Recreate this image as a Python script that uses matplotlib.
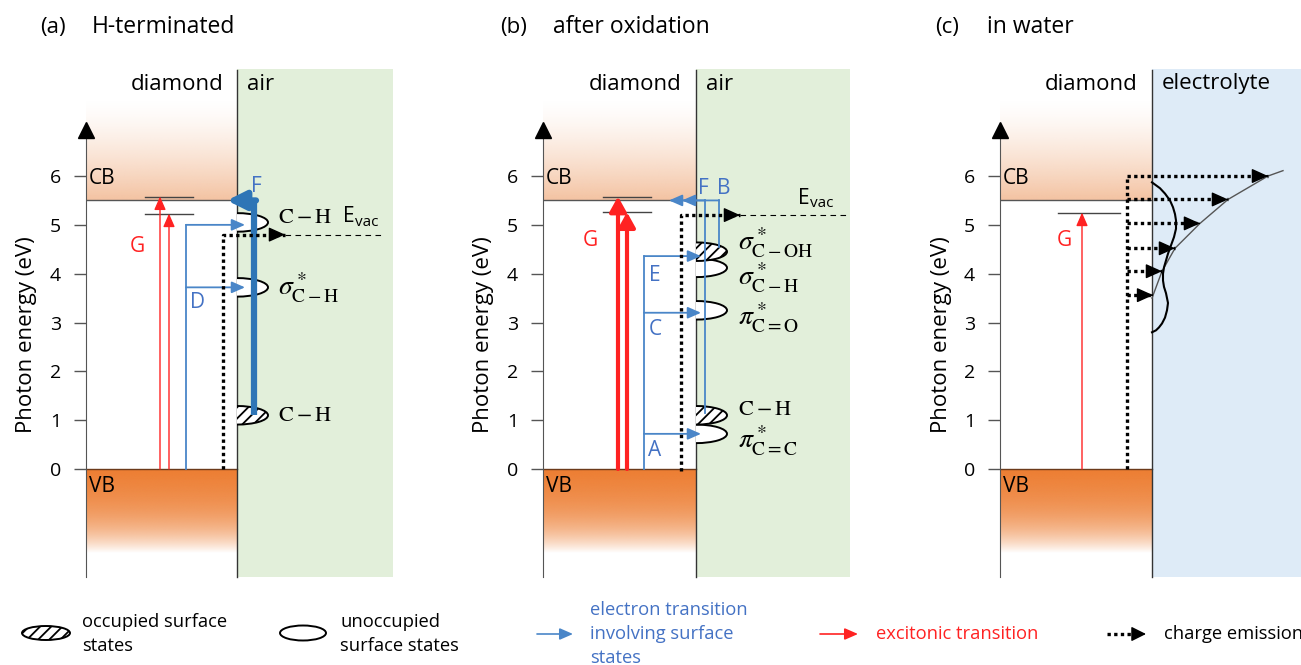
import numpy as np
import matplotlib.pyplot as plt
from matplotlib.patches import Ellipse, Rectangle
from matplotlib.colors import to_rgb

plt.rcParams['font.family'] = ['Open Sans', 'DejaVu Sans']
plt.rcParams['mathtext.fontset'] = 'stix'
plt.rcParams['hatch.linewidth'] = 1.3

# ---- data (energies in eV) ----
energy_ticks = [0, 1, 2, 3, 4, 5, 6]
cb_edge = 5.5
vb_edge = 0.0

# (a) H-terminated
a_exciton = [5.58, 5.23]
a_empty = [5.05, 3.72]            # C-H, sigma*C-H
a_full = [1.1]                    # C-H
a_empty_names = [r'$\mathrm{C-H}$', r'$\sigma^*_{\mathrm{C-H}}$']
a_empty_label_E = [5.16, 3.71]
a_full_names = [r'$\mathrm{C-H}$']
a_full_label_E = [1.1]
a_D_targets = [5.0, 3.72]
a_F_start = 1.1
a_evac = 4.8

# (b) after oxidation
b_exciton = [5.58, 5.26]
b_empty = [4.12, 3.25, 0.72]      # sigma*C-H, pi*C=O, pi*C=C
b_full = [4.45, 1.1]              # sigma*C-OH, C-H
b_names = [r'$\sigma^*_{\mathrm{C-OH}}$', r'$\sigma^*_{\mathrm{C-H}}$',
           r'$\pi^*_{\mathrm{C=O}}$', r'$\mathrm{C-H}$', r'$\pi^*_{\mathrm{C=C}}$']
b_label_E = [4.62, 3.91, 3.09, 1.21, 0.57]
b_ECA_targets = [4.36, 3.2, 0.72]
b_ECA_names = ['E', 'C', 'A']
b_ECA_label_E = [3.97, 2.86, 0.37]
b_F_start = 1.15
b_B_start = 4.55
b_evac = 5.2

# (c) in water
c_exciton = [5.25]
c_emission = [6.0, 5.52, 5.03, 4.52, 4.05, 3.56]
c_dos_E = [3.5, 4.05, 4.52, 5.03, 5.52, 6.0, 6.11]
c_dos_x = [0, 10, 23, 48, 76, 116, 131]
c_surf_E = [5.87, 5.75, 5.64, 5.5, 5.36, 5.22, 5.09, 4.92, 4.75, 4.58, 4.41, 4.27, 4.13,
            4.0, 3.86, 3.73, 3.6, 3.5, 3.4, 3.25, 3.1, 2.98, 2.9, 2.84, 2.8]
c_surf_x = [0, 8, 13, 18, 21, 23, 24, 24, 22, 19, 16, 14, 12, 11, 11, 12, 14, 15, 16, 15,
            13, 10, 7, 4, 0]

# ---- layout (pixels) ----
W, H = 1301, 665
PX = 48.83
Y0 = 469
Y_BOT, Y_TOP = 577, 10


def E(ypx):
    return (Y0 - ypx) / PX


E_BOT, E_TOP = E(Y_BOT), E(Y_TOP)

BLUE = '#4a86c8'
BLUE_DARK = '#2e75b6'
BLUE_TXT = '#4472c4'
RED = '#ff2222'
GREEN_BG = '#e2efda'
WATER_BG = '#deebf7'

fig = plt.figure(figsize=(W / 100, H / 100), dpi=100)


def arrow(ax, x0, y0, x1, y1, color, lw=1.2, hl=0.8, hw=0.4, ls='-', z=5):
    ax.annotate('', xy=(x1, y1), xytext=(x0, y0), zorder=z,
                arrowprops=dict(arrowstyle='-|>,head_length=%s,head_width=%s' % (hl, hw),
                                color=color, lw=lw, shrinkA=0, shrinkB=0,
                                mutation_scale=10, linestyle=ls))


def dotted_arrow(ax, xs, ys, hl=1.0, hw=0.45):
    ax.plot(xs, ys, color='black', lw=2.4, ls=(0, (1, 1)), dash_capstyle='butt', zorder=5)
    arrow(ax, xs[-1] - 1, ys[-1], xs[-1], ys[-1], 'black', lw=1, hl=hl, hw=hw)


def state(ax, iface, e, filled, w=62, h=0.38):
    el = Ellipse((iface, e), w, h, facecolor='white', edgecolor='black', lw=1.4,
                 hatch='///' if filled else None, zorder=4)
    ax.add_patch(el)
    el.set_clip_path(Rectangle((iface, E_BOT), 400, 20, transform=ax.transData))


def panel(x0, width, iface, med_end, med_color, med_name, tag, title, tag_x, title_x):
    ax = fig.add_axes([x0 / W, (H - Y_BOT) / H, width / W, (Y_BOT - Y_TOP) / H])
    ax.patch.set_visible(False)
    for s in ['top', 'right', 'bottom']:
        ax.spines[s].set_visible(False)
    ax.spines['left'].set_bounds(E_BOT, 6.9)
    ax.spines['left'].set_color('#555555')
    ax.set_xticks([])
    ax.set_yticks(energy_ticks)
    ax.tick_params(axis='y', length=9, width=1, color='#555555', labelsize=14, pad=9)
    ax.plot([0], [6.95], marker='^', ms=11, color='black', clip_on=False, zorder=6)
    # medium next to diamond
    ax.add_patch(Rectangle((iface, E_BOT), med_end - iface, E(69) - E_BOT,
                           color=med_color, lw=0, zorder=0, clip_on=False))
    ax.plot([iface, iface], [E_BOT, E(70)], color='#333333', lw=1, zorder=3, clip_on=False)
    # conduction band gradient
    n = 200
    s = np.linspace(0, 1, n)[:, None]
    img = np.ones((n, 2, 4))
    img[..., :3] = to_rgb('#f4c3a2')
    img[..., 3] = (1 - s) ** 1.4
    ax.imshow(img, extent=(0, iface, cb_edge, E(100)), origin='lower', aspect='auto', zorder=1)
    # valence band gradient
    img2 = np.ones((n, 2, 4))
    img2[..., :3] = to_rgb('#ed7d31')
    s2 = s[::-1]
    img2[..., 3] = (1 - s2 ** 4) * (1 - 0.35 * s2)
    ax.imshow(img2, extent=(0, iface, E(553), vb_edge), origin='lower', aspect='auto', zorder=1)
    ax.plot([0, iface], [cb_edge, cb_edge], color='#555555', lw=1, zorder=2)
    ax.plot([0, iface], [vb_edge, vb_edge], color='#6b3a1a', lw=1, zorder=2)
    ax.text(3, E(178), 'CB', fontsize=15, va='center', zorder=6)
    ax.text(3, E(486), 'VB', fontsize=15, va='center', zorder=6)
    ax.text(iface - 14, E(84), 'diamond', fontsize=16, ha='right', va='center')
    ax.text(iface + 10, E(84), med_name, fontsize=16, ha='left', va='center')
    ax.text(tag_x, E(27), tag, fontsize=16, ha='left', va='center', clip_on=False)
    ax.text(title_x, E(27), title, fontsize=16.5, ha='left', va='center', clip_on=False)
    ax.text(-59, E(335), 'Photon energy (eV)', fontsize=16, rotation=90,
            ha='center', va='center', clip_on=False)
    ax.set_xlim(0, width)
    ax.set_ylim(E_BOT, E_TOP)
    return ax


def evac_label(ax, x, e):
    ax.text(x, e, 'E', fontsize=15, va='center')
    ax.text(x + 12, e - 0.12, 'vac', fontsize=11, va='center')


# ---------------- (a) ----------------
ax = panel(86, 334, 151, 307, GREEN_BG, 'air', '(a)', 'H-terminated', -46, 6)
for e in a_exciton:
    ax.plot([59, 107], [e, e], color='#444444', lw=1, zorder=3)
for xg, e in zip([74, 83], a_exciton):
    arrow(ax, xg, 0, xg, e, RED, lw=1, hl=0.8, hw=0.35)
ax.text(51, E(247), 'G', color=RED, fontsize=15, ha='center', va='center')
ax.plot([100, 100], [0, max(a_D_targets)], color=BLUE, lw=1.3, zorder=5)
for e in a_D_targets:
    arrow(ax, 100, e, 159, e, BLUE, lw=1.3, hl=0.8, hw=0.35)
ax.text(111, E(303), 'D', color=BLUE_TXT, fontsize=15, ha='center', va='center')
for e in a_empty:
    state(ax, 151, e, False)
for e in a_full:
    state(ax, 151, e, True)
ax.plot([168, 168], [a_F_start, cb_edge], color=BLUE_DARK, lw=4.5, zorder=5, solid_capstyle='butt')
arrow(ax, 170, cb_edge, 141, cb_edge, BLUE_DARK, lw=4.5, hl=1.1, hw=0.55)
ax.text(170, E(186), 'F', color=BLUE_TXT, fontsize=15, ha='center', va='center')
dotted_arrow(ax, [137, 137, 199], [0, a_evac, a_evac])
ax.plot([199, 295], [a_evac, a_evac], color='black', lw=0.8, ls=(0, (5, 4)), zorder=3)
evac_label(ax, 257, E(217))
for name, e in zip(a_empty_names, a_empty_label_E):
    ax.text(192, e, name, fontsize=20 if 'sigma' in name else 16, va='center')
for name, e in zip(a_full_names, a_full_label_E):
    ax.text(192, e, name, fontsize=16, va='center')

# ---------------- (b) ----------------
ax = panel(543, 337, 153, 307, GREEN_BG, 'air', '(b)', 'after oxidation', -43, 10)
for e in b_exciton:
    ax.plot([60, 108], [e, e], color='#444444', lw=1, zorder=3)
for xg, e in zip([75, 84], b_exciton):
    arrow(ax, xg, 0, xg, e, RED, lw=3, hl=0.9, hw=0.5)
ax.text(47, E(240), 'G', color=RED, fontsize=15, ha='center', va='center')
ax.plot([101, 101], [0, max(b_ECA_targets)], color=BLUE, lw=1.3, zorder=5)
for e in b_ECA_targets:
    arrow(ax, 101, e, 158, e, BLUE, lw=1.3, hl=0.8, hw=0.35)
for name, e in zip(b_ECA_names, b_ECA_label_E):
    ax.text(112, e, name, color=BLUE_TXT, fontsize=15, ha='center', va='center')
for e in b_empty:
    state(ax, 153, e, False)
for e in b_full:
    state(ax, 153, e, True)
ax.plot([162, 162], [b_F_start, cb_edge], color=BLUE, lw=1.3, zorder=5)
arrow(ax, 162, cb_edge, 139, cb_edge, BLUE, lw=1.3, hl=0.8, hw=0.35)
ax.plot([176, 176], [b_B_start, cb_edge], color=BLUE, lw=1.3, zorder=5)
arrow(ax, 176, cb_edge, 126, cb_edge, BLUE, lw=1.3, hl=0.8, hw=0.35)
ax.text(160, E(188), 'F', color=BLUE_TXT, fontsize=15, ha='center', va='center')
ax.text(181, E(188), 'B', color=BLUE_TXT, fontsize=15, ha='center', va='center')
dotted_arrow(ax, [138, 138, 197], [-0.05, b_evac, b_evac])
ax.plot([197, 307], [b_evac, b_evac], color='black', lw=0.8, ls=(0, (5, 4)), zorder=3)
evac_label(ax, 255, E(198))
for name, e in zip(b_names, b_label_E):
    ax.text(195, e, name, fontsize=16 if name == r'$\mathrm{C-H}$' else 20, va='center')

# ---------------- (c) ----------------
ax = panel(1000, 301, 152, 301, WATER_BG, 'electrolyte', '(c)', 'in water', -65, -13)
for e in c_exciton:
    ax.plot([58, 120], [e, e], color='#444444', lw=1, zorder=3)
    arrow(ax, 82, 0, 82, e, RED, lw=1, hl=0.8, hw=0.35)
ax.text(64, E(240), 'G', color=RED, fontsize=15, ha='center', va='center')
ax.plot(152 + np.array(c_dos_x), c_dos_E, color='#555555', lw=1, zorder=4)
ax.plot(152 + np.array(c_surf_x), c_surf_E, color='black', lw=1.5, zorder=4)
ax.plot([127, 127], [0, max(c_emission)], color='black', lw=2.4, ls=(0, (1, 1)),
        dash_capstyle='butt', zorder=5)
for e in c_emission:
    tip = 152 + np.interp(e, c_dos_E, c_dos_x)
    dotted_arrow(ax, [127, tip], [e, e])

# ---------------- legend ----------------
lg = fig.add_axes([0, 0, 1, 70 / H])
lg.set_xlim(0, W)
lg.set_ylim(665, 595)
lg.axis('off')
lg.add_patch(Ellipse((46, 633), 48, 14, facecolor='white', edgecolor='black', lw=1.4, hatch='///'))
lg.text(82, 634, 'occupied surface\nstates', fontsize=13.2, va='center', linespacing=1.45)
lg.add_patch(Ellipse((303, 633), 46, 15, facecolor='white', edgecolor='black', lw=1.4))
lg.text(340, 634, 'unoccupied\nsurface states', fontsize=13.2, va='center', linespacing=1.45)
arrow(lg, 537, 634, 573, 634, BLUE, lw=1.2, hl=0.8, hw=0.35)
lg.text(590, 634, 'electron transition\ninvolving surface\nstates', fontsize=13.2,
        color=BLUE_TXT, va='center', linespacing=1.45, clip_on=False)
arrow(lg, 820, 634, 858, 634, RED, lw=1.2, hl=0.8, hw=0.35)
lg.text(876, 634, 'excitonic transition', fontsize=13.2, color=RED, va='center')
lg.plot([1107, 1138], [634, 634], color='black', lw=2.4, ls=(0, (1, 1)), dash_capstyle='butt')
arrow(lg, 1137, 634, 1146, 634, 'black', lw=1, hl=0.9, hw=0.45)
lg.text(1164, 634, 'charge emission', fontsize=13.2, va='center')

fig.savefig('out.png', dpi=100)
